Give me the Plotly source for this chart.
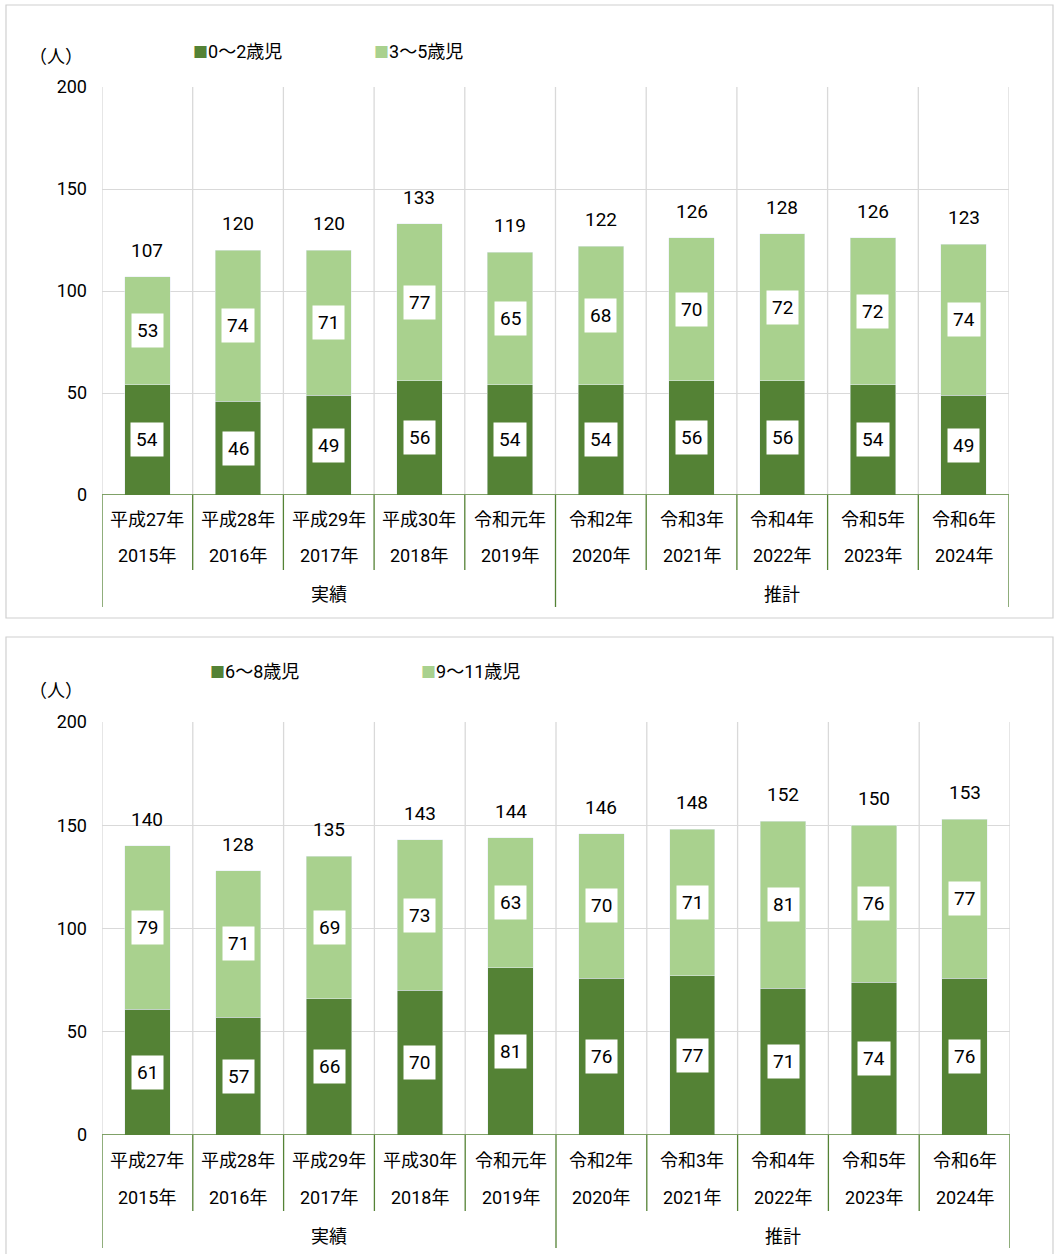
import plotly.graph_objects as go

W, H = 1054, 1254
years_era = ["平成27年", "平成28年", "平成29年", "平成30年", "令和元年",
             "令和2年", "令和3年", "令和4年", "令和5年", "令和6年"]
years_ad = ["2015年", "2016年", "2017年", "2018年", "2019年",
            "2020年", "2021年", "2022年", "2023年", "2024年"]
groups = ["実績", "推計"]
group_sizes = [5, 5]

top_names = ["0～2歳児", "3～5歳児"]
top_young = [54, 46, 49, 56, 54, 54, 56, 56, 54, 49]
top_old = [53, 74, 71, 77, 65, 68, 70, 72, 72, 74]

bot_names = ["6～8歳児", "9～11歳児"]
bot_young = [61, 57, 66, 70, 81, 76, 77, 71, 74, 76]
bot_old = [79, 71, 69, 73, 63, 70, 71, 81, 76, 77]

yticks = [0, 50, 100, 150, 200]

DARK = "#548235"
LIGHT = "#A9D18E"
GRID = "#D9D9D9"
FONT = "Roboto, Noto Sans CJK JP"

def py(pix):
    return 1 - pix / H

def px(pix):
    return pix / W

fig = go.Figure()
xs = list(range(len(years_era)))

panels = [
    dict(names=top_names, a=top_young, b=top_old, xa="x", ya="y", xref="x", yref="y",
         xdom=[px(102), px(1009)], ydom=[py(495), py(87)],
         rows=[519, 556, 595], short=570, long=607,
         leg_y=52, leg_x=[191, 372], unit_y=56, box=[6, 5, 1053, 618]),
    dict(names=bot_names, a=bot_young, b=bot_old, xa="x2", ya="y2", xref="x2", yref="y2",
         xdom=[px(102), px(1010)], ydom=[py(1135), py(722)],
         rows=[1160, 1197, 1236], short=1211, long=1248,
         leg_y=671, leg_x=[208, 419], unit_y=690, box=[6, 637, 1053, 1262]),
]

shapes = []
annotations = []
for p in panels:
    fig.add_trace(go.Bar(x=xs, y=p["a"], name=p["names"][0], marker_color=DARK,
                         width=0.5, xaxis=p["xa"], yaxis=p["ya"], showlegend=False))
    fig.add_trace(go.Bar(x=xs, y=p["b"], name=p["names"][1], marker_color=LIGHT,
                         width=0.5, xaxis=p["xa"], yaxis=p["ya"], showlegend=False))
    # panel border
    b = p["box"]
    shapes.append(dict(type="rect", xref="paper", yref="paper", x0=px(b[0]), x1=px(b[2]),
                       y0=py(b[3]), y1=py(b[1]), line=dict(color="#D0D0D0", width=1.2),
                       layer="below"))
    # vertical gridlines at category boundaries
    for i in range(len(xs) + 1):
        shapes.append(dict(type="line", xref=p["xref"], yref=p["yref"], x0=i - 0.5, x1=i - 0.5,
                           y0=0, y1=200, line=dict(color=GRID, width=1.3), layer="below"))
    # category separators below axis
    bounds = [0]
    for g in group_sizes:
        bounds.append(bounds[-1] + g)
    for i in range(len(xs) + 1):
        longline = i in bounds
        shapes.append(dict(type="line", xref=p["xref"], yref="paper", x0=i - 0.5, x1=i - 0.5,
                           y0=p["ydom"][0], y1=py(p["long"] if longline else p["short"]),
                           line=dict(color=DARK, width=1.3)))
    # zero axis line
    shapes.append(dict(type="line", xref=p["xref"], yref=p["yref"], x0=-0.5, x1=len(xs) - 0.5,
                       y0=0, y1=0, line=dict(color=DARK, width=1.5)))
    # category labels
    for i in xs:
        annotations.append(dict(x=i, y=py(p["rows"][0]), xref=p["xref"], yref="paper",
                                text=years_era[i], showarrow=False, yanchor="middle",
                                font=dict(size=18, color="#000", family=FONT)))
        annotations.append(dict(x=i, y=py(p["rows"][1]), xref=p["xref"], yref="paper",
                                text=years_ad[i], showarrow=False, yanchor="middle",
                                font=dict(size=18, color="#000", family=FONT)))
    for gi, g in enumerate(groups):
        cx = (bounds[gi] + bounds[gi + 1] - 1) / 2
        annotations.append(dict(x=cx, y=py(p["rows"][2]), xref=p["xref"], yref="paper",
                                text=g, showarrow=False, yanchor="middle",
                                font=dict(size=18, color="#000", family=FONT)))
    # segment labels
    for i in xs:
        a, bb = p["a"][i], p["b"][i]
        for base, v in ((0, a), (a, bb)):
            annotations.append(dict(x=i, y=base + v / 2, xref=p["xref"], yref=p["yref"],
                                    text=str(v), showarrow=False, bgcolor="white",
                                    borderpad=5,
                                    font=dict(size=19, color="#000", family=FONT)))
        annotations.append(dict(x=i, y=a + bb, xref=p["xref"], yref=p["yref"],
                                text=str(a + bb), showarrow=False, yanchor="bottom", yshift=13,
                                font=dict(size=19, color="#000", family=FONT)))
    # legend-like labels
    for k, (nm, col) in enumerate(zip(p["names"], [DARK, LIGHT])):
        annotations.append(dict(
            x=px(p["leg_x"][k]), y=py(p["leg_y"]), xref="paper", yref="paper",
            xanchor="left", yanchor="middle", showarrow=False,
            text=f'<span style="color:{col};font-size:15px">■</span>{nm}',
            font=dict(size=18, color="#000", family=FONT)))
    # unit label
    annotations.append(dict(x=px(27), y=py(p["unit_y"]), xref="paper", yref="paper",
                            xanchor="left", yanchor="middle",
                            text="（人）", showarrow=False,
                            font=dict(size=18, color="#000", family=FONT)))

axis_common = dict(range=[-0.5, 9.5], showticklabels=False, showgrid=False, automargin=False,
                   zeroline=False, showline=False, ticks="", fixedrange=True)
yaxis_common = dict(range=[0, 200], tickvals=yticks, showgrid=True, gridcolor=GRID,
                    gridwidth=1.3, zeroline=False, showline=False, ticks="", automargin=False,
                    tickfont=dict(size=18, color="#000", family=FONT), ticklabelstandoff=14)

fig.update_layout(
    width=W, height=H, margin=dict(l=0, r=0, t=0, b=0, autoexpand=False),
    paper_bgcolor="white", plot_bgcolor="white", barmode="stack",
    font=dict(family=FONT, color="#000"),
    xaxis=dict(domain=panels[0]["xdom"], anchor="y", **axis_common),
    yaxis=dict(domain=panels[0]["ydom"], anchor="x", **yaxis_common),
    xaxis2=dict(domain=panels[1]["xdom"], anchor="y2", **axis_common),
    yaxis2=dict(domain=panels[1]["ydom"], anchor="x2", **yaxis_common),
    shapes=shapes, annotations=annotations, showlegend=False,
)

fig.write_html("out.html")
